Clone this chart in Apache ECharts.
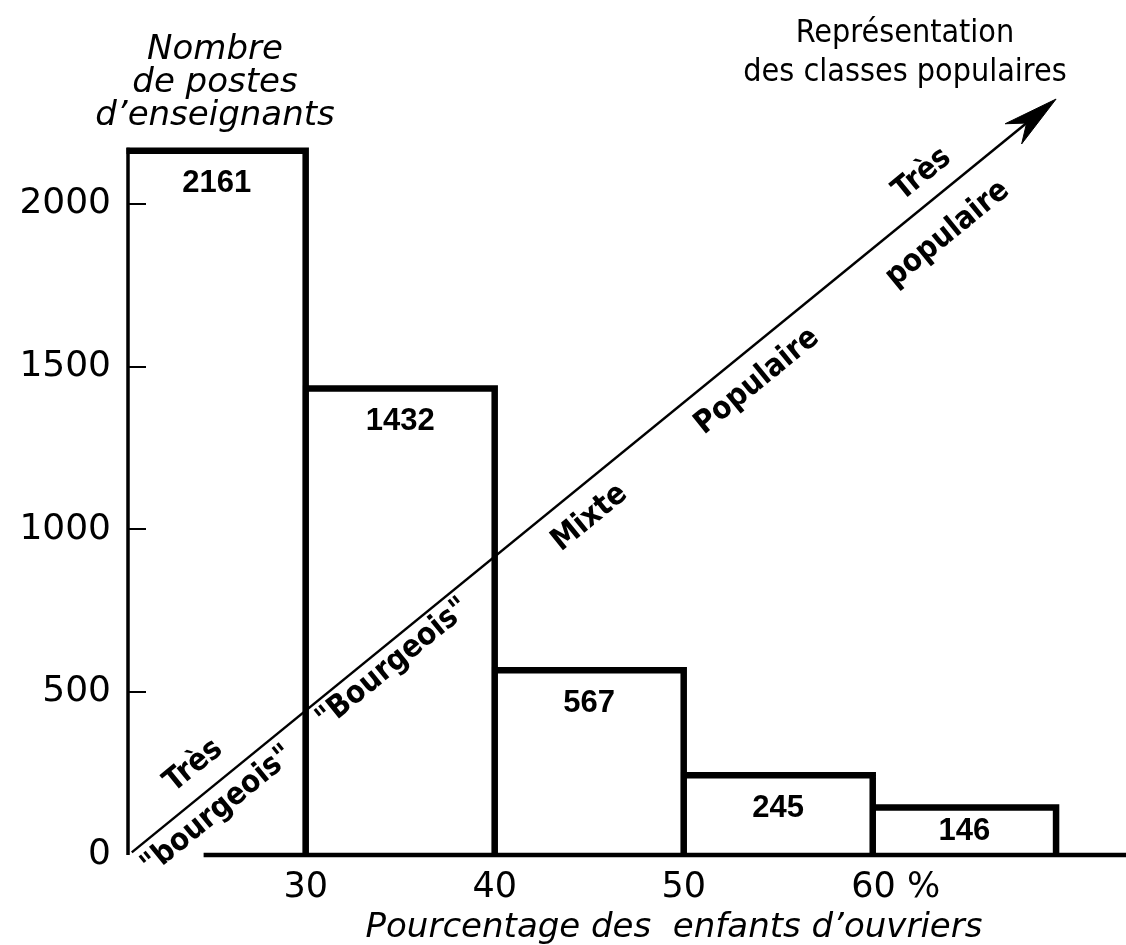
<!DOCTYPE html>
<html>
<head>
<meta charset="utf-8">
<script src="https://cdn.jsdelivr.net/npm/echarts@6/dist/echarts.min.js"></script>
<style>html,body{margin:0;padding:0;background:#fff}#c{width:1126px;height:945px}</style>
</head>
<body>
<div id="c"></div>
<script>
// ---- data ----
const binEdges = [20.6, 30, 40, 50, 60, 69.7];
const binCounts = [2161, 1432, 567, 245, 146];
const xTickValues = [30, 40, 50, 60];
const xTickLabels = ['30', '40', '50', '60 %'];
const yTickValues = [0, 500, 1000, 1500, 2000];
const yTickMarks = [500, 1000, 1500, 2000];
const arrowStart = [20.8, 8];
const arrowEnd = [69.7, 2320];
const arrowLabels = ['Très', '"bourgeois"', '"Bourgeois"', 'Mixte', 'Populaire', 'Très', 'populaire'];
const yTitle = 'Nombre\nde postes\nd’enseignants';
const xTitle = 'Pourcentage des  enfants d’ouvriers';
const arrowTitle = 'Représentation\ndes classes populaires';

// ---- layout (not data) ----
const xMin = 20.6, xMax = 73.4, yMin = 0, yMax = 2400;
const baselineStart = 24.6;
// [fraction along arrow, perpendicular offset px (+ above)]
const arrowLabelPlacement = [[0.086, 28], [0.078, -22], [0.27, -19], [0.475, -30], [0.656, -30], [0.873, 26], [0.858, -36]];

const INK = '#000';
const condFont = '"DejaVu Sans Condensed", "Liberation Sans Narrow", "DejaVu Sans", sans-serif';
const plainFont = '"DejaVu Sans", sans-serif';

const chart = echarts.init(document.getElementById('c'), null, {renderer: 'canvas'});

const option = {
  backgroundColor: '#fff',
  animation: false,
  grid: {left: 128, right: 0, top: 73, bottom: 90, containLabel: false, outerBoundsMode: 'none'},
  xAxis: {
    type: 'value', min: xMin, max: xMax,
    axisLine: {show: false}, axisTick: {show: false}, splitLine: {show: false},
    axisLabel: {
      customValues: xTickValues,
      formatter: function (v) {
        const i = xTickValues.indexOf(v);
        const s = i >= 0 ? xTickLabels[i] : '';
        return s.indexOf('%') >= 0 ? '{p|' + s + '}' : s;
      },
      rich: {p: {fontSize: 35, fontFamily: plainFont, color: INK, padding: [0, 0, 0, 46]}},
      fontSize: 35, fontFamily: plainFont, color: INK, margin: 15
    },
    name: xTitle, nameLocation: 'middle', nameGap: 56,
    nameTextStyle: {fontSize: 34, fontStyle: 'italic', fontFamily: plainFont, color: INK, padding: [0, 0, 0, 94]}
  },
  yAxis: {
    type: 'value', min: yMin, max: yMax,
    axisLine: {show: false}, splitLine: {show: false},
    axisTick: {show: true, inside: true, length: 18, customValues: yTickMarks, lineStyle: {color: INK, width: 2}},
    axisLabel: {customValues: yTickValues, formatter: function (v) { return String(v); }, fontSize: 36, fontFamily: plainFont, color: INK, margin: 17}
  },
  graphic: [
    {type: 'text', x: 215, y: 34, style: {text: yTitle, fontSize: 34, fontStyle: 'italic', fontFamily: plainFont, fill: INK, align: 'center', verticalAlign: 'top', lineHeight: 33}},
    {type: 'text', x: 905, y: 14, style: {text: arrowTitle, fontSize: 32, fontFamily: condFont, fill: INK, align: 'center', verticalAlign: 'top', lineHeight: 39}}
  ],
  series: [
    {
      type: 'custom', name: 'bars',
      data: binCounts.map((c, i) => [binEdges[i], binEdges[i + 1], c]),
      encode: {x: [0, 1], y: 2},
      renderItem: function (params, api) {
        const l = api.value(0), r = api.value(1), v = api.value(2);
        const lb = api.coord([l, 0]), lt = api.coord([l, v]), rt = api.coord([r, v]), rb = api.coord([r, 0]);
        const h = lb[1] - lt[1];
        const first = params.dataIndex === 0;
        return {type: 'group', children: [
          {type: 'line', shape: {x1: lb[0], y1: lb[1], x2: lt[0], y2: lt[1] - 3}, style: {stroke: INK, lineWidth: first ? 3.5 : 5.5}},
          {type: 'polyline', shape: {points: [[lt[0] - (first ? 1.5 : 2.5), lt[1]], rt, rb]}, style: {stroke: INK, lineWidth: 6.5, fill: null, lineJoin: 'miter'}},
          {type: 'text', x: (lt[0] + rt[0]) / 2, y: lt[1] + Math.min(33, h / 2),
           style: {text: String(v), fontSize: 31, fontWeight: 'bold', fontFamily: '"Liberation Sans", Arial, sans-serif', fill: INK, align: 'center', verticalAlign: 'middle'}}
        ]};
      }
    },
    {
      type: 'custom', name: 'baseline',
      data: [[baselineStart, 0]],
      encode: {x: 0, y: 1},
      renderItem: function (params, api) {
        const p = api.coord([api.value(0), api.value(1)]);
        const cs = params.coordSys;
        return {type: 'line', shape: {x1: p[0], y1: p[1], x2: cs.x + cs.width, y2: p[1]}, style: {stroke: INK, lineWidth: 4.5}};
      }
    },
    {
      type: 'custom', name: 'arrow',
      data: [[arrowStart[0], arrowStart[1], arrowEnd[0], arrowEnd[1]]],
      encode: {x: [0, 2], y: [1, 3]},
      renderItem: function (params, api) {
        const p0 = api.coord([api.value(0), api.value(1)]);
        const p1 = api.coord([api.value(2), api.value(3)]);
        const dx = p1[0] - p0[0], dy = p1[1] - p0[1];
        const L = Math.sqrt(dx * dx + dy * dy);
        const u = [dx / L, dy / L];
        const n = [u[1], -u[0]]; // perpendicular, towards upper-left
        const rot = -Math.atan2(dy, dx);
        const headLen = 55, headHalf = 13, notch = 38;
        const back = [p1[0] - u[0] * headLen, p1[1] - u[1] * headLen];
        const nt = [p1[0] - u[0] * notch, p1[1] - u[1] * notch];
        const b1 = [back[0] + n[0] * headHalf, back[1] + n[1] * headHalf];
        const b2 = [back[0] - n[0] * headHalf, back[1] - n[1] * headHalf];
        const children = [
          {type: 'line', shape: {x1: p0[0], y1: p0[1], x2: nt[0], y2: nt[1]}, style: {stroke: INK, lineWidth: 2.5}},
          {type: 'polygon', shape: {points: [p1, b1, nt, b2]}, style: {fill: INK, stroke: INK, lineWidth: 1}}
        ];
        arrowLabels.forEach(function (txt, i) {
          const t = arrowLabelPlacement[i][0] * L, s = arrowLabelPlacement[i][1];
          children.push({
            type: 'text',
            x: p0[0] + u[0] * t + n[0] * s,
            y: p0[1] + u[1] * t + n[1] * s,
            rotation: rot,
            style: {text: txt, fontSize: 31, fontWeight: 'bold', fontFamily: condFont, fill: INK, align: 'center', verticalAlign: 'middle'}
          });
        });
        return {type: 'group', children: children};
      }
    }
  ]
};
chart.setOption(option);
</script>
</body>
</html>
